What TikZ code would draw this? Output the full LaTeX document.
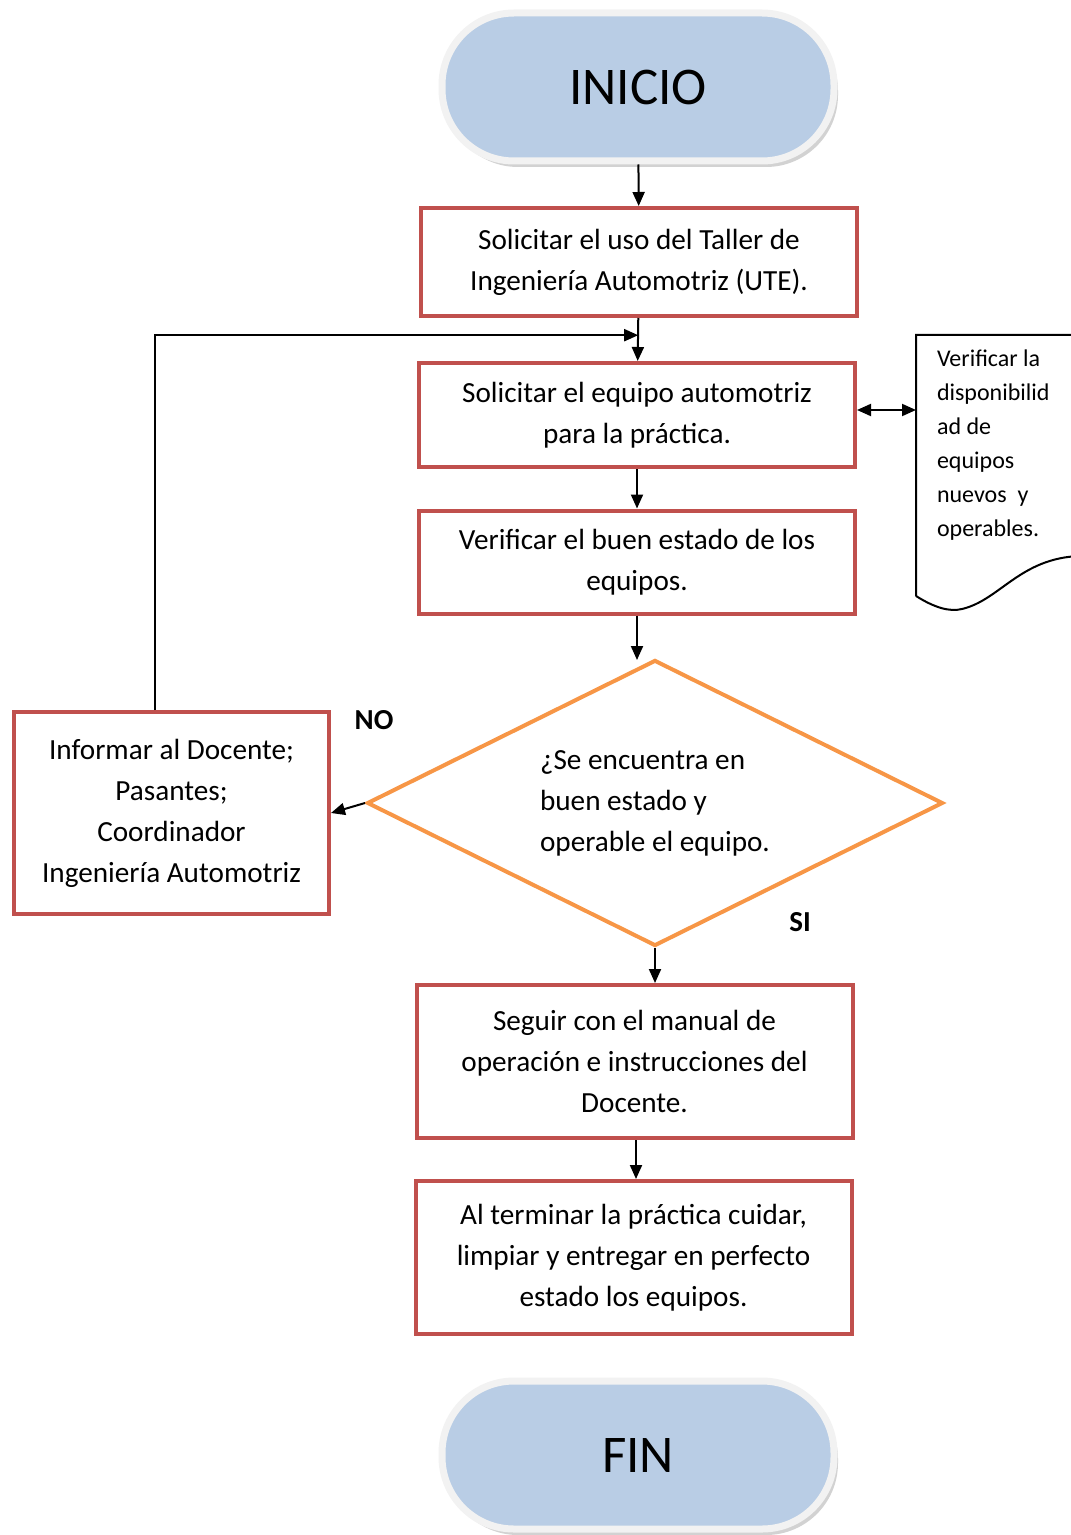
\documentclass[tikz,border=0pt]{standalone}
\usepackage{fontspec}
\setmainfont{Carlito}
\usetikzlibrary{arrows.meta,positioning,shapes.geometric,shadows,calc}

\definecolor{procred}{HTML}{C0504D}
\definecolor{decorange}{HTML}{F79646}
\definecolor{termblue}{HTML}{B9CDE5}

\begin{document}
\begin{tikzpicture}[
  x=0.5pt, y=-0.5pt,
  >={Triangle[length=7pt,width=6pt]}, line width=1pt,
  proc/.style={rectangle, draw=procred, line width=2pt, align=center,
    minimum width=218pt, font=\fontsize{14.6}{20.5}\selectfont},
  term/.style={rectangle, rounded corners=36pt, fill=termblue, draw=black!5,
    line width=3.5pt, minimum width=196pt, minimum height=74pt,
    drop shadow={shadow xshift=2pt, shadow yshift=-3pt, fill=black!35},
    font=\fontsize{26.5}{32}\selectfont},
  decision/.style={diamond, draw=decorange, line width=2pt, align=left,
    aspect=2, minimum width=288pt, minimum height=143pt, inner sep=0pt,
    font=\fontsize{14.6}{20.5}\selectfont},
  lbl/.style={font=\fontsize{14.5}{17}\selectfont\bfseries},
]
\useasboundingbox (0,0) rectangle (1070,1535);

% main column
\node[term] (ini) at (638,87) {INICIO};
\node[proc, minimum height=54pt] (taller) at (639,262)
  {Solicitar el uso del Taller de\\Ingeniería Automotriz (UTE).};
\node[proc, minimum height=52pt] (equipo) at (637,415)
  {Solicitar el equipo automotriz\\para la práctica.};
\node[proc, minimum height=51.5pt] (estado) at (637,562)
  {Verificar el buen estado de los\\equipos.};
\node[decision] (dec) at (655,803)
  {¿Se encuentra en\\buen estado y\\operable el equipo.};
\node[proc, minimum height=76.5pt] (manual) at (634.5,1061.5)
  {Seguir con el manual de\\operación e instrucciones del\\Docente.};
\node[proc, minimum height=76.5pt] (limpiar) at (633.5,1257.5)
  {Al terminar la práctica cuidar,\\limpiar y entregar en perfecto\\estado los equipos.};
\node[term] (fin) at (638,1455) {FIN};

% side
\node[proc, minimum width=157.5pt, minimum height=101pt] (informar) at (171.5,813)
  {Informar al Docente;\\Pasantes;\\Coordinador\\Ingeniería Automotriz};
\node[lbl] (no) at (374,720) {NO};
\node[lbl] (si) at (800,922) {SI};

% document
\draw (916,596) -- (916,335) -- (1080,335)
  (916,596) .. controls (935,608) and (950,612) .. (962,609)
  .. controls (1000,600) and (1020,558) .. (1080,556);
\node[anchor=west, align=left, inner sep=0pt, font=\fontsize{12}{17}\selectfont]
  (disp) at (936,445)
  {Verificar la\\disponibilid\\ad de\\equipos\\nuevos~ y\\operables.};
\coordinate (dispL) at (916,410);

% connectors
\draw[->] (ini) -- (taller);
\draw[->] (taller) -- (equipo);
\draw[<->] (equipo.east |- dispL) -- (dispL);
\draw[->] (equipo) -- (estado);
\draw[->] (estado.south) -- (estado.south |- 0,660);
\draw[->] (dec.west) -- (informar.east);
\draw[->] (dec.south) -- (manual.north -| dec.south);
\draw[->] (manual.south -| 636,0) -- (limpiar.north -| 636,0);
\draw[->] (informar.north -| 155,0) |- ($(taller.south)!0.4!(equipo.north)$);
\end{tikzpicture}
\end{document}
